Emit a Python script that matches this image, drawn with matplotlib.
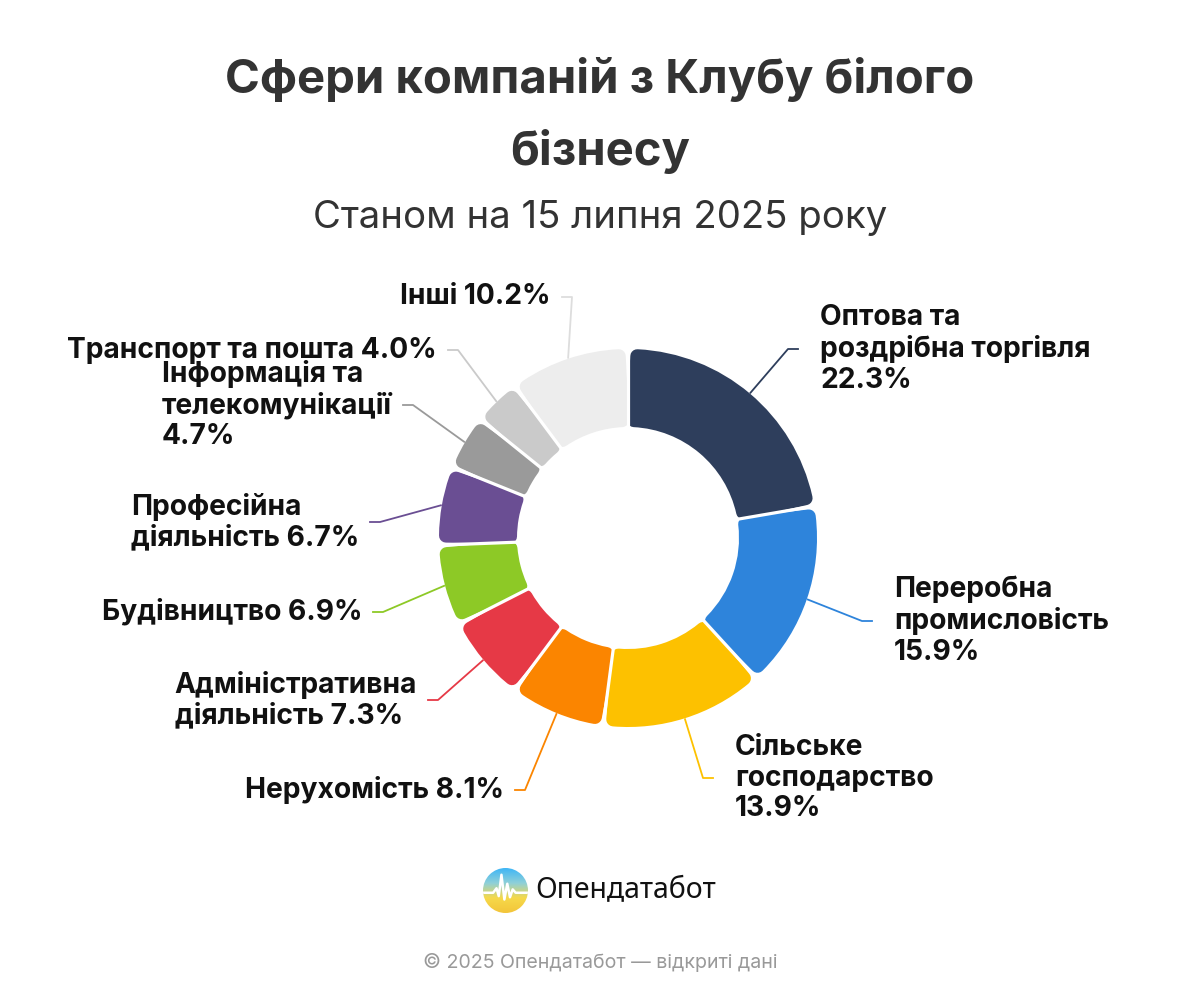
import numpy as np
import matplotlib
matplotlib.use("Agg")
import matplotlib.pyplot as plt
from matplotlib.patches import Circle

# Дані: сфери компаній Клубу білого бізнесу, частка у %
sectors = [
    "Оптова та\nроздрібна торгівля",
    "Переробна\nпромисловість",
    "Сільське\nгосподарство",
    "Нерухомість",
    "Адміністративна\nдіяльність",
    "Будівництво",
    "Професійна\nдіяльність",
    "Інформація та\nтелекомунікації",
    "Транспорт та пошта",
    "Інші",
]
shares = [22.3, 15.9, 13.9, 8.1, 7.3, 6.9, 6.7, 4.7, 4.0, 10.2]
colors = ["#2e3e5c", "#2e84db", "#fdc100", "#fb8500", "#e63946",
          "#8dc926", "#6a4e93", "#9a9a9a", "#cacaca", "#ededed"]
line_colors = colors[:-1] + ["#dddddd"]

# Розташування підписів (пікселі: точка зламу, вирівнювання)
label_fmt = ["{}\n{:.1f}%", "{}\n{:.1f}%", "{}\n{:.1f}%", "{} {:.1f}%", "{} {:.1f}%",
             "{} {:.1f}%", "{} {:.1f}%", "{}\n{:.1f}%", "{} {:.1f}%", "{} {:.1f}%"]
elbows = [(788, 349), (862, 621), (703, 778), (525, 790), (438, 700),
          (383, 612), (380, 522), (413, 405), (458, 350), (572, 297)]
sides = [1, 1, 1, -1, -1, -1, -1, -1, -1, -1]

W, H = 1200, 1000
fig = plt.figure(figsize=(12, 10), dpi=100)
ax = fig.add_axes([0, 0, 1, 1])

cx, cy = 628, H - 538
R_out, R_in = 189, 111
pad = 7  # радіус заокруглення кутів

wedges, _ = ax.pie(shares, colors=colors, startangle=90, counterclock=False,
                   radius=R_out, center=(cx, cy), frame=True,
                   wedgeprops=dict(width=R_out - R_in))
ax.set_xlim(0, W)
ax.set_ylim(0, H)
ax.set_aspect("auto")
ax.axis("off")

dang = np.degrees((pad - 1) / (R_in + pad))
for w, c in zip(wedges, colors):
    t1, t2 = w.theta1, w.theta2
    w.set_theta1(t1 + dang)
    w.set_theta2(t2 - dang)
    w.set_radius(R_out - pad)
    w.set_width(R_out - R_in - 2 * pad)
    w.set_edgecolor(c)
    w.set_linewidth(2 * pad * 0.72)
    w.set_joinstyle("round")

# білі проміжки між секторами
for w in wedges:
    a = np.radians(w.theta1 - dang)
    ax.plot([cx + (R_in - 4) * np.cos(a), cx + (R_out + 4) * np.cos(a)],
            [cy + (R_in - 4) * np.sin(a), cy + (R_out + 4) * np.sin(a)],
            color="white", lw=3.2 * 0.72, solid_capstyle="butt", zorder=3)

# виноски та підписи
for w, name, val, fmt, (ex, ey), side, lc in zip(
        wedges, sectors, shares, label_fmt, elbows, sides, line_colors):
    mid = np.radians((w.theta1 + w.theta2) / 2)
    sx = cx + (R_out + 1) * np.cos(mid)
    sy = cy + (R_out + 1) * np.sin(mid)
    ey = H - ey
    hx = ex + 10 * side
    ax.plot([sx, ex, hx], [sy, ey, ey], color=lc, lw=1.3, zorder=1)
    tx = hx + 22 * side if side > 0 else hx - 11
    ax.text(tx, ey, fmt.format(name, val), ha="left" if side > 0 else "right",
            va="center", multialignment="left", fontsize=20.3,
            fontweight="bold", color="#111111", family="Inter",
            linespacing=1.19)

# заголовок
ax.text(600, H - 80, "Сфери компаній з Клубу білого", ha="center", va="center",
        fontsize=34, fontweight="bold", color="#333333", family="Inter")
ax.text(600, H - 153, "бізнесу", ha="center", va="center",
        fontsize=34, fontweight="bold", color="#333333", family="Inter")
ax.text(600, H - 218, "Станом на 15 липня 2025 року", ha="center", va="center",
        fontsize=27.6, color="#333333", family="Inter")

# логотип
lax = fig.add_axes([483 / W, 1 - 913 / H, 45 / W, 45 / H])
lax.set_xlim(-1, 1)
lax.set_ylim(-1, 1)
lax.axis("off")
grad = np.linspace(0, 1, 100).reshape(-1, 1)
cmap = matplotlib.colors.LinearSegmentedColormap.from_list(
    "logo", ["#3fb6f6", "#8fd0d8", "#f6d94a", "#f3c53a"])
img = lax.imshow(grad, extent=(-1, 1, -1, 1), origin="upper", cmap=cmap,
                 aspect="auto")
circ = Circle((0, 0), 1, transform=lax.transData)
img.set_clip_path(circ)
wx = [-1, -0.55, -0.4, -0.3, -0.18, -0.05, 0.08, 0.2, 0.32, 0.45, 1]
wy = [-0.1, -0.1, 0.1, -0.25, 0.7, -0.4, 0.3, -0.3, 0.05, -0.1, -0.1]
wl, = lax.plot(wx, wy, color="white", lw=1.8)
wl.set_clip_path(circ)
ax.text(535, H - 891, "Опендатабот", ha="left", va="center", fontsize=20.5,
        color="#111111", family="Noto Sans", fontweight="medium")

ax.text(600, H - 963, "© 2025 Опендатабот — відкриті дані", ha="center",
        va="center", fontsize=14.1, color="#999999", family="Inter")

fig.savefig("out.png", dpi=100, facecolor="white")
